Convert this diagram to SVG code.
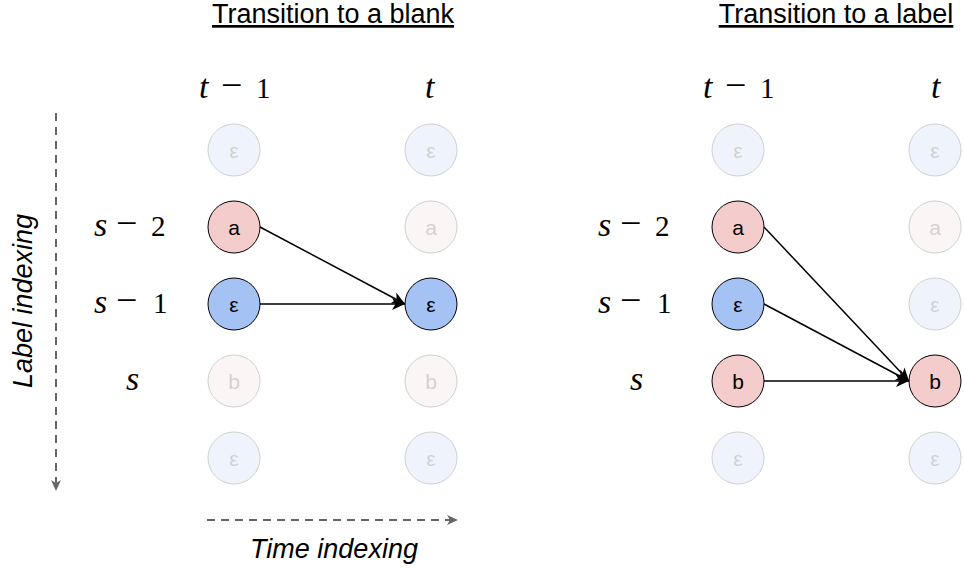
<svg xmlns="http://www.w3.org/2000/svg" width="964" height="573" viewBox="0 0 964 573">
<style>
.title{font-family:"Liberation Sans",Arial,sans-serif;font-size:27px;text-decoration:underline;text-anchor:middle;fill:#000}
.axis{font-family:"Liberation Sans",Arial,sans-serif;font-size:27px;font-style:italic;text-anchor:middle;fill:#000}
.math{font-family:"Liberation Serif","Times New Roman",serif;font-size:29px;fill:#000}
.v{font-style:italic;font-size:34px}
.m{font-size:38px}
.n circle{stroke:#000;stroke-width:1}
.n text{font-family:"Liberation Sans",Arial,sans-serif;font-size:21px;text-anchor:middle;dominant-baseline:central;fill:#000}
.pink circle{fill:#f4cccc}
.blue circle{fill:#a4c2f4}
.faded{opacity:0.18}
.edge{stroke:#000;stroke-width:1.5;fill:none}
.dash{stroke:#666;stroke-width:2;stroke-dasharray:8 6;fill:none}
</style>
<defs>
<marker id="arr" markerUnits="userSpaceOnUse" markerWidth="14" markerHeight="12" refX="13" refY="6" orient="auto">
<path d="M0,0 L13,6 L0,12 L3.5,6 Z" fill="#000"/>
</marker>
<marker id="darr" markerUnits="userSpaceOnUse" markerWidth="12" markerHeight="10" refX="11" refY="5" orient="auto">
<path d="M0,0 L11,5 L0,10 L3,5 Z" fill="#666"/>
</marker>
</defs>

<text class="title" x="333" y="23">Transition to a blank</text>
<text class="title" x="836" y="23">Transition to a label</text>

<g id="labels-left">
<text class="math" y="98"><tspan class="v" x="199">t</tspan><tspan class="m" x="221">−</tspan><tspan x="256">1</tspan></text>
<text class="math" y="98"><tspan class="v" x="425">t</tspan></text>
<text class="math" y="236"><tspan class="v" x="94">s</tspan><tspan class="m" x="116">−</tspan><tspan x="151">2</tspan></text>
<text class="math" y="313"><tspan class="v" x="94">s</tspan><tspan class="m" x="116">−</tspan><tspan x="153">1</tspan></text>
<text class="math" y="390"><tspan class="v" x="126">s</tspan></text>
</g>
<g id="labels-right">
<text class="math" y="98"><tspan class="v" x="703">t</tspan><tspan class="m" x="725">−</tspan><tspan x="760">1</tspan></text>
<text class="math" y="98"><tspan class="v" x="931">t</tspan></text>
<text class="math" y="236"><tspan class="v" x="598">s</tspan><tspan class="m" x="620">−</tspan><tspan x="655">2</tspan></text>
<text class="math" y="313"><tspan class="v" x="598">s</tspan><tspan class="m" x="620">−</tspan><tspan x="657">1</tspan></text>
<text class="math" y="390"><tspan class="v" x="630">s</tspan></text>
</g>

<text class="axis" transform="translate(32,301) rotate(-90)">Label indexing</text>
<text class="axis" x="334" y="558">Time indexing</text>

<!-- left panel nodes -->
<g id="L1-eps1" class="n blue faded"><circle cx="234" cy="150" r="26"/><text x="234" y="150">ε</text></g>
<g id="L1-a" class="n pink"><circle cx="234" cy="227" r="26"/><text x="234" y="227">a</text></g>
<g id="L1-eps2" class="n blue"><circle cx="234" cy="304" r="26"/><text x="234" y="304">ε</text></g>
<g id="L1-b" class="n pink faded"><circle cx="234" cy="381" r="26"/><text x="234" y="381">b</text></g>
<g id="L1-eps3" class="n blue faded"><circle cx="234" cy="458" r="26"/><text x="234" y="458">ε</text></g>
<g id="L2-eps1" class="n blue faded"><circle cx="431" cy="150" r="26"/><text x="431" y="150">ε</text></g>
<g id="L2-a" class="n pink faded"><circle cx="431" cy="227" r="26"/><text x="431" y="227">a</text></g>
<g id="L2-eps2" class="n blue"><circle cx="431" cy="304" r="26"/><text x="431" y="304">ε</text></g>
<g id="L2-b" class="n pink faded"><circle cx="431" cy="381" r="26"/><text x="431" y="381">b</text></g>
<g id="L2-eps3" class="n blue faded"><circle cx="431" cy="458" r="26"/><text x="431" y="458">ε</text></g>

<!-- right panel nodes -->
<g id="R1-eps1" class="n blue faded"><circle cx="738" cy="150" r="26"/><text x="738" y="150">ε</text></g>
<g id="R1-a" class="n pink"><circle cx="738" cy="227" r="26"/><text x="738" y="227">a</text></g>
<g id="R1-eps2" class="n blue"><circle cx="738" cy="304" r="26"/><text x="738" y="304">ε</text></g>
<g id="R1-b" class="n pink"><circle cx="738" cy="381" r="26"/><text x="738" y="381">b</text></g>
<g id="R1-eps3" class="n blue faded"><circle cx="738" cy="458" r="26"/><text x="738" y="458">ε</text></g>
<g id="R2-eps1" class="n blue faded"><circle cx="935" cy="150" r="26"/><text x="935" y="150">ε</text></g>
<g id="R2-a" class="n pink faded"><circle cx="935" cy="227" r="26"/><text x="935" y="227">a</text></g>
<g id="R2-eps2" class="n blue faded"><circle cx="935" cy="304" r="26"/><text x="935" y="304">ε</text></g>
<g id="R2-b" class="n pink"><circle cx="935" cy="381" r="26"/><text x="935" y="381">b</text></g>
<g id="R2-eps3" class="n blue faded"><circle cx="935" cy="458" r="26"/><text x="935" y="458">ε</text></g>

<g id="connectors">
<line class="dash" x1="56" y1="113" x2="56" y2="491" marker-end="url(#darr)"/>
<line class="dash" x1="207" y1="520" x2="458" y2="520" marker-end="url(#darr)"/>
<line class="edge" x1="260" y1="227" x2="405" y2="304" marker-end="url(#arr)"/>
<line class="edge" x1="260" y1="304" x2="405" y2="304" marker-end="url(#arr)"/>
<line class="edge" x1="764" y1="227" x2="909" y2="381" marker-end="url(#arr)"/>
<line class="edge" x1="764" y1="304" x2="909" y2="381" marker-end="url(#arr)"/>
<line class="edge" x1="764" y1="381" x2="909" y2="381" marker-end="url(#arr)"/>
</g>
</svg>
